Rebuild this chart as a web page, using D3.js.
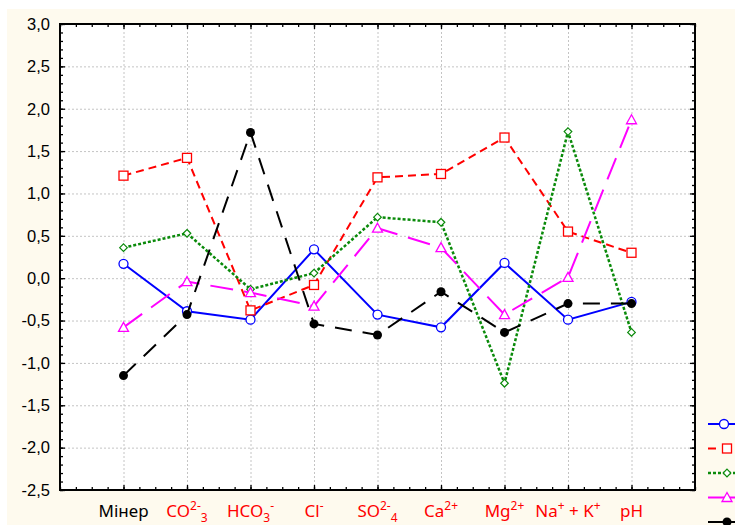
<!DOCTYPE html>
<html>
<head>
<meta charset="utf-8">
<script src="https://cdn.jsdelivr.net/npm/d3@7"></script>
<style>
  body { margin: 0; background: #fff; }
  svg { display: block; }
</style>
</head>
<body>
<svg id="chart" width="735" height="525"></svg>
<script>
"use strict";

const categories = ["Мінер", "CO3", "HCO3", "Cl", "SO4", "Ca", "Mg", "NaK", "pH"]
// label pieces: [text, kind] kind: n normal, sup, sub
const catLabels = [
    [["Мінер", "n"]],
    [["CO", "n"], ["2-", "sup"], ["3", "sub"]],
    [["HCO", "n"], ["3", "sub"], ["-", "sup"]],
    [["Cl", "n"], ["-", "sup"]],
    [["SO", "n"], ["2-", "sup"], ["4", "sub"]],
    [["Ca", "n"], ["2+", "sup"]],
    [["Mg", "n"], ["2+", "sup"]],
    [["Na", "n"], ["+", "sup"], [" + K", "n"], ["+", "sup"]],
    [["pH", "n"]]
]
const labelColors = ["black", "red", "red", "red", "red", "red", "red", "red", "red"]

const yTicks = [3.0, 2.5, 2.0, 1.5, 1.0, 0.5, 0.0, -0.5, -1.0, -1.5, -2.0, -2.5]

const s1 = [0.17, -0.39, -0.49, 0.34, -0.43, -0.58, 0.18, -0.49, -0.28]
const s2 = [1.21, 1.42, -0.38, -0.08, 1.19, 1.23, 1.66, 0.55, 0.30]
const s3 = [0.36, 0.53, -0.13, 0.06, 0.72, 0.66, -1.24, 1.73, -0.64]
const s4 = [-0.58, -0.04, -0.17, -0.33, 0.59, 0.36, -0.43, 0.01, 1.87]
const s5 = [-1.15, -0.43, 1.72, -0.54, -0.67, -0.16, -0.64, -0.30, -0.30]

const series = [
    { values: s1, color: "#0000ff", dash: null, width: 2, marker: "circle" },
    { values: s2, color: "#ff0000", dash: "8,5", width: 2, marker: "square" },
    { values: s3, color: "#0a8a0a", dash: "3,2", width: 2.5, marker: "diamond" },
    { values: s4, color: "#ff00ff", dash: "23,11", width: 2, marker: "triangle" },
    { values: s5, color: "#000000", dash: "17,11", width: 2, marker: "dot" }
]

const width = 735
const height = 525
const m = { left: 60, right: 695, top: 24, bottom: 490 }

const svg = d3.select("#chart")

// cream panel
svg.append("rect").attr("x", 7).attr("y", 9).attr("width", width - 7).attr("height", height - 9)
    .attr("fill", "#fefaee")
svg.append("rect").attr("x", m.left).attr("y", m.top).attr("width", m.right - m.left).attr("height", m.bottom - m.top)
    .attr("fill", "white")

const x = d3.scaleLinear().domain([0, 10]).range([m.left, m.right])
const y = d3.scaleLinear().domain([-2.5, 3.0]).range([m.bottom, m.top])

// grid
const grid = svg.append("g").attr("stroke", "#c4c4c4").attr("stroke-width", 1).attr("stroke-dasharray", "2,2")
grid.selectAll(".gy").data(yTicks.slice(1, -1)).join("line")
    .attr("x1", m.left).attr("x2", m.right)
    .attr("y1", d => y(d) + 0.5).attr("y2", d => y(d) + 0.5)
grid.selectAll(".gx").data(d3.range(1, 10)).join("line")
    .attr("x1", d => x(d) + 0.5).attr("x2", d => x(d) + 0.5)
    .attr("y1", m.top).attr("y2", m.bottom)

// axes (ticks inward)
const minorY = d3.range(-25, 31).map(d => d / 10)
const minorX = d3.range(0, 41).map(d => d / 4)

svg.append("g").attr("transform", `translate(${m.left},0)`)
    .call(d3.axisRight(y).tickValues(minorY).tickSize(3).tickFormat(""))
svg.append("g").attr("transform", `translate(${m.left},0)`)
    .call(d3.axisRight(y).tickValues(yTicks).tickSize(5).tickFormat(""))
svg.append("g").attr("transform", `translate(${m.left},0)`)
    .call(d3.axisLeft(y).tickValues(yTicks).tickSize(0).tickPadding(10)
        .tickFormat(d => d3.format(".1f")(d).replace(".", ",").replace("−", "-")))
    .call(g => g.select(".domain").remove())
    .selectAll("text").attr("font-family", "Liberation Sans, Arial, sans-serif").attr("font-size", 16.5)
    .attr("fill", "black")

svg.append("g").attr("transform", `translate(${m.right},0)`)
    .call(d3.axisLeft(y).tickValues(minorY).tickSize(3).tickFormat(""))
svg.append("g").attr("transform", `translate(${m.right},0)`)
    .call(d3.axisLeft(y).tickValues(yTicks).tickSize(5).tickFormat(""))

svg.append("g").attr("transform", `translate(0,${m.bottom})`)
    .call(d3.axisTop(x).tickValues(minorX).tickSize(3).tickFormat(""))
svg.append("g").attr("transform", `translate(0,${m.bottom})`)
    .call(d3.axisTop(x).tickValues(d3.range(1, 10)).tickSize(5).tickFormat(""))
svg.append("g").attr("transform", `translate(0,${m.top})`)
    .call(d3.axisBottom(x).tickValues(minorX).tickSize(3).tickFormat(""))
svg.append("g").attr("transform", `translate(0,${m.top})`)
    .call(d3.axisBottom(x).tickValues(d3.range(1, 10)).tickSize(5).tickFormat(""))

svg.selectAll(".tick line").attr("stroke", "black").attr("stroke-width", 1.3)
svg.selectAll(".domain").remove()

// frame
svg.append("rect").attr("x", m.left).attr("y", m.top).attr("width", m.right - m.left).attr("height", m.bottom - m.top)
    .attr("fill", "none").attr("stroke", "black").attr("stroke-width", 2)

// x labels
const xl = svg.append("g").attr("font-family", "Noto Sans, Open Sans, sans-serif")
catLabels.forEach((parts, i) => {
    const t = xl.append("text").attr("x", x(i + 1)).attr("y", 517)
        .attr("text-anchor", "middle").attr("fill", labelColors[i]).attr("font-size", 17)
    let shift = 0
    parts.forEach(([txt, kind]) => {
        const target = kind == "sup" ? -7 : kind == "sub" ? 5 : 0
        t.append("tspan").attr("dy", target - shift)
            .attr("font-size", kind == "n" ? 17 : 12)
            .text(txt)
        shift = target
    })
})

// markers
function drawMarker(g, kind, color, cx, cy) {
    if (kind == "circle") {
        g.append("circle").attr("cx", cx).attr("cy", cy).attr("r", 4.5)
            .attr("fill", "white").attr("stroke", color).attr("stroke-width", 1.3)
    } else if (kind == "dot") {
        g.append("circle").attr("cx", cx).attr("cy", cy).attr("r", 4.5).attr("fill", color)
    } else if (kind == "square") {
        g.append("rect").attr("x", cx - 4.5).attr("y", cy - 4.5).attr("width", 9).attr("height", 9)
            .attr("fill", "white").attr("stroke", color).attr("stroke-width", 1.3)
    } else if (kind == "diamond") {
        g.append("path").attr("d", `M${cx},${cy - 3.8}L${cx + 3.8},${cy}L${cx},${cy + 3.8}L${cx - 3.8},${cy}Z`)
            .attr("fill", "white").attr("stroke", color).attr("stroke-width", 1.2)
    } else if (kind == "triangle") {
        g.append("path").attr("d", `M${cx},${cy - 5}L${cx + 5},${cy + 4}L${cx - 5},${cy + 4}Z`)
            .attr("fill", "white").attr("stroke", color).attr("stroke-width", 1.3)
    }
}

const line = d3.line().x((d, i) => x(i + 1)).y(d => y(d))

series.forEach(s => {
    const g = svg.append("g")
    g.append("path").datum(s.values).attr("d", line)
        .attr("fill", "none").attr("stroke", s.color).attr("stroke-width", s.width)
        .attr("stroke-dasharray", s.dash)
    s.values.forEach((v, i) => drawMarker(g, s.marker, s.color, x(i + 1), y(v)))
})

// legend (cut off at the right edge)
const legY = d3.scaleLinear().domain([0, 4]).range([424, 522])
series.forEach((s, i) => {
    const g = svg.append("g")
    const yy = legY(i)
    g.append("line").attr("x1", 708).attr("x2", i == 1 ? 716 : 745).attr("y1", yy).attr("y2", yy)
        .attr("stroke", s.color).attr("stroke-width", s.width)
        .attr("stroke-dasharray", i == 2 ? "3,2" : null)
    drawMarker(g, s.marker, s.color, i == 0 ? 724 : 727, yy)
})
</script>
</body>
</html>
